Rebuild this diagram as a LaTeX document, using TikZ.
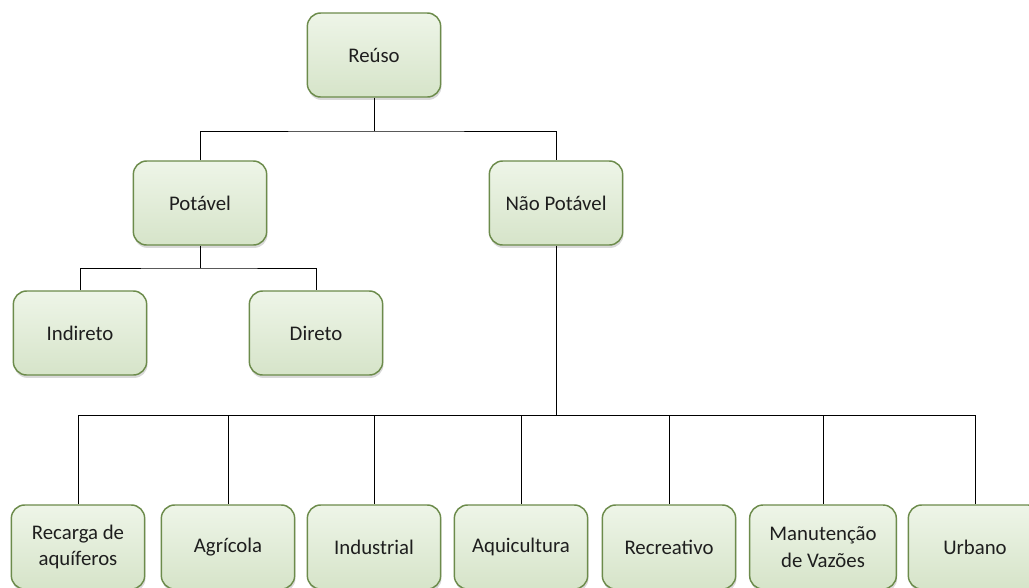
\documentclass[tikz,border=0pt]{standalone}
\usepackage{fontspec}
\setmainfont{Carlito}
\usetikzlibrary{shadows}
\definecolor{boxtop}{HTML}{EEF5E8}
\definecolor{boxbot}{HTML}{D6E4C9}
\definecolor{boxline}{HTML}{6C8B4B}
\definecolor{boxtext}{HTML}{1E1E1E}
\tikzset{
  usobox/.style={draw=boxline, line width=1.1pt, rounded corners=10pt,
    top color=boxtop, bottom color=boxbot,
    drop shadow={opacity=0.3, shadow xshift=0.6pt, shadow yshift=-2.2pt},
    minimum width=100pt, minimum height=63pt, align=center,
    text=boxtext, font=\fontsize{15.6}{20}\selectfont},
  tree/.style={draw=black, line width=0.75pt}
}
\begin{document}
\begin{tikzpicture}[x=0.75pt, y=-0.75pt]
    % page = reference size in px
    \useasboundingbox (0,0) rectangle (1029,587);
    \clip (0,0) rectangle (1029,587);
    % levels
    \node[usobox] (reuso) at (374,55) {Reúso};
    \node[usobox] (potavel) at (200,203) {Potável};
    \node[usobox] (naopotavel) at (556,203) {Não Potável};
    \node[usobox] (indireto) at (80,333) {Indireto};
    \node[usobox] (direto) at (316,333) {Direto};
    \node[usobox] (recarga) at (78,547) {Recarga de\\aquíferos};
    \node[usobox] (agricola) at (228,547) {Agrícola};
    \node[usobox] (industrial) at (374,547) {Industrial};
    \node[usobox] (aquicultura) at (521,547) {Aquicultura};
    \node[usobox] (recreativo) at (669,547) {Recreativo};
    \node[usobox, minimum width=110pt] (manutencao) at (823,547) {Manutenção\\de Vazões};
    \node[usobox] (urbano) at (975,547) {Urbano};
    % bus points
    \coordinate (bus1) at (374,131);
    \coordinate (bus2) at (200,268);
    \coordinate (bus3) at (556,415);
    \draw[tree] (reuso.south) -- (bus1);
    \draw[tree] (potavel.north) |- (bus1) -| (naopotavel.north);
    \draw[tree] (potavel.south) -- (bus2);
    \draw[tree] (indireto.north) |- (bus2) -| (direto.north);
    \draw[tree] (naopotavel.south) -- (bus3);
    \foreach \n in {recarga,agricola,industrial,aquicultura,recreativo,manutencao,urbano}
      \draw[tree] (bus3) -| (\n.north);
  \end{tikzpicture}
\end{document}
